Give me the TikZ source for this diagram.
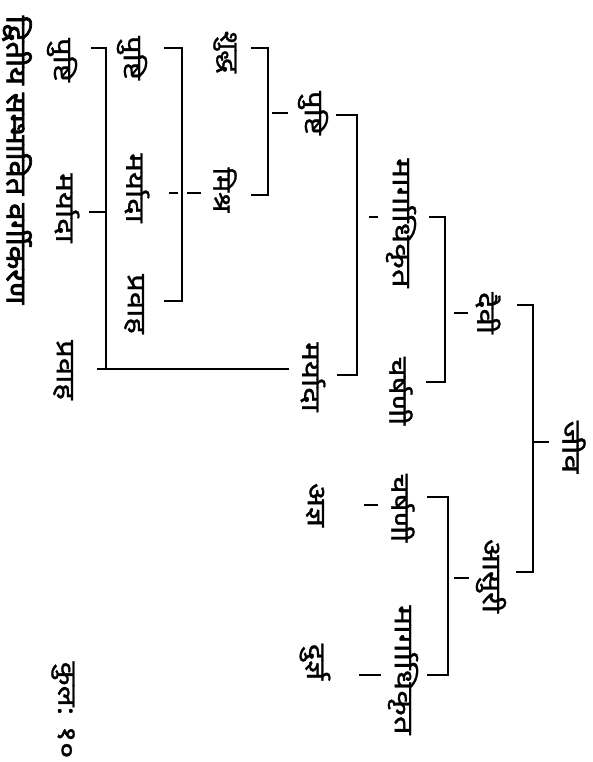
\documentclass[tikz,border=0pt]{standalone}
\usepackage{fontspec}
\newfontfamily\deva[Script=Devanagari,FakeBold=1]{Noto Sans}
\newfontfamily\devab[Script=Devanagari,FakeBold=2.5]{Noto Sans}
\newcommand{\stretchtxt}[2][1.2]{\scalebox{#1}[1]{#2}}
\begin{document}
\begin{tikzpicture}[x=1pt,y=-1pt,
  lbl/.style={font=\deva\fontsize{26}{26}\selectfont,rotate=-90,inner sep=0pt,anchor=center},
  ttl/.style={font=\devab\fontsize{28}{28}\selectfont,rotate=-90,inner sep=0pt,anchor=center},
  ln/.style={line width=1.3pt,line cap=rect}]
\useasboundingbox (0,0) rectangle (592,762);
% labels
\node[ttl] (title) at (17,160) {\stretchtxt[1.1]{द्वितीय सम्भावित वर्गीकरण}};
\node[lbl] (kul) at (63,710) {\stretchtxt{कुल: १०}};
\node[lbl] (l1) at (62,60) {\stretchtxt{पुष्टि}};
\node[lbl] (l2) at (67,208) {\stretchtxt{मर्यादा}};
\node[lbl] (l3) at (63,370) {\stretchtxt{प्रवाह}};
\node[lbl] (b1) at (132,58) {\stretchtxt{पुष्टि}};
\node[lbl] (b2) at (137,188) {\stretchtxt{मर्यादा}};
\node[lbl] (b3) at (134,304) {\stretchtxt{प्रवाह}};
\node[lbl] (c1) at (225,52) {\stretchtxt[1.1]{शुद्ध}};
\node[lbl] (c2) at (225,190) {\stretchtxt[1.1]{मिश्र}};
\node[lbl] (d1) at (313,113) {\stretchtxt{पुष्टि}};
\node[lbl] (d2) at (313,377) {\stretchtxt{मर्यादा}};
\node[lbl] (d3) at (315,505) {\stretchtxt{अज्ञ}};
\node[lbl] (d4) at (315,662) {\stretchtxt{दुर्ज्ञ}};
\node[lbl] (e1) at (401,223) {\stretchtxt[1.28]{मार्गाधिकृत}};
\node[lbl] (e2) at (401,391) {\stretchtxt{चर्षणी}};
\node[lbl] (e3) at (403,508) {\stretchtxt{चर्षणी}};
\node[lbl] (e4) at (403,670) {\stretchtxt[1.28]{मार्गाधिकृत}};
\node[lbl] (f1) at (488,313) {\stretchtxt{दैवी}};
\node[lbl] (f2) at (491,576) {\stretchtxt{आसुरी}};
\node[lbl] (root) at (574,447) {\stretchtxt[1.3]{जीव}};
% connectors
% root group
\coordinate (r1) at (533,305); \coordinate (r2) at (533,572);
\draw[ln] (518,305) -- (r1) -- (r2) -- (517,572);
\draw[ln] (533,442) -- (548,442);
% daivi group
\coordinate (s1) at (445,217); \coordinate (s2) at (445,382);
\draw[ln] (430,217) -- (s1) -- (s2) -- (427,382);
\draw[ln] (455,313) -- (467,313);
% asuri group
\coordinate (t1) at (448,497); \coordinate (t2) at (448,675);
\draw[ln] (428,497) -- (t1) -- (t2) -- (428,675);
\draw[ln] (455,578) -- (468,578);
% col 4 group
\coordinate (u1) at (357,115); \coordinate (u2) at (357,375);
\draw[ln] (337,115) -- (u1) -- (u2) -- (338,375);
\draw[ln] (370,217) -- (377,217);
\draw[ln] (365,505) -- (377,505);
\draw[ln] (360,675) -- (380,675);
% col 3 group
\coordinate (v1) at (268,48); \coordinate (v2) at (268,195);
\draw[ln] (252,48) -- (v1) -- (v2) -- (252,195);
\draw[ln] (273,113) -- (287,113);
% col 2 group
\coordinate (w1) at (182,48); \coordinate (w2) at (182,301);
\draw[ln] (165,48) -- (w1) -- (w2) -- (165,301);
\draw[ln] (170,193) -- (177,193);
\draw[ln] (188,193) -- (200,193);
% left group
\coordinate (x1) at (106,48); \coordinate (x2) at (106,369);
\draw[ln] (92,48) -- (x1) -- (x2);
\draw[ln] (90,212) -- (106,212);
\draw[ln] (98,369) -- (288,369);
\end{tikzpicture}
\end{document}
